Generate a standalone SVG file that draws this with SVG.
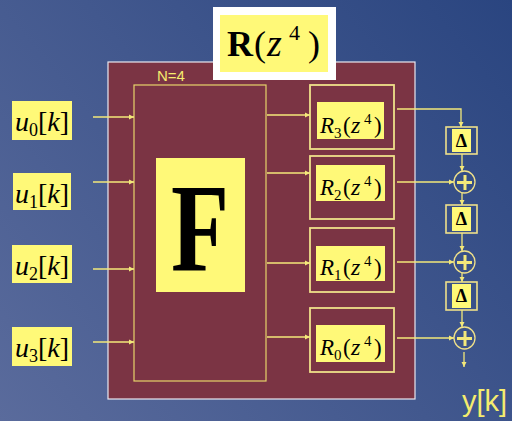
<svg xmlns="http://www.w3.org/2000/svg" width="512" height="421" viewBox="0 0 512 421">
<defs>
<linearGradient id="bg" x1="0" y1="421" x2="512" y2="0" gradientUnits="userSpaceOnUse">
<stop offset="0" stop-color="#5a6b9c"/>
<stop offset="1" stop-color="#2a4580"/>
</linearGradient>
<marker id="ah" markerWidth="6" markerHeight="6" refX="5" refY="3" orient="auto" markerUnits="userSpaceOnUse">
<path d="M0,0.5 L5,3 L0,5.5 Z" fill="#f3e87a"/>
</marker>
<style>
.ybox{fill:#fff978}
.ln{stroke:#f3e87a;stroke-width:1.3;fill:none}
.arr{stroke:#f3e87a;stroke-width:1.3;fill:none;marker-end:url(#ah)}
.rbox{fill:none;stroke:#efe08a;stroke-width:1.8}
.dbox{fill:none;stroke:#efe08a;stroke-width:1.6}
.math{font-family:"Liberation Serif","Times New Roman",serif;fill:#000}
.it{font-style:italic}
.sans{font-family:"Liberation Sans",Arial,sans-serif;fill:#f5ec6e}
</style>
</defs>
<rect width="512" height="421" fill="url(#bg)"/>

<g id="outer">
<rect x="108" y="62" width="307" height="337" fill="#7b3444" stroke="#e8e8f0" stroke-width="1.2"/>
</g>

<g id="title">
<rect x="213" y="7" width="123" height="73" fill="#ffffff"/>
<rect x="220" y="15" width="108" height="57" class="ybox"/>
<text class="math" y="56" font-size="36"><tspan x="227" font-weight="bold">R</tspan><tspan x="254">(</tspan><tspan x="267" class="it" font-size="38">z</tspan><tspan x="289" y="40" font-size="22">4</tspan><tspan x="308" y="56">)</tspan></text>
</g>

<g id="n4"><text class="sans" x="157" y="81" font-size="15">N=4</text></g>

<g id="F">
<rect x="134" y="85" width="132" height="296" fill="none" stroke="#e6d46a" stroke-width="1.2"/>
<rect x="156" y="158" width="89" height="134" class="ybox"/>
<text class="math" font-size="125" font-weight="bold" text-anchor="middle" transform="translate(200,270) scale(0.76,1)">F</text>
</g>

<g id="u0">
<rect x="12" y="101" width="60" height="39" class="ybox"/>
<text class="math" y="131" font-size="28"><tspan x="15" class="it">u</tspan><tspan font-size="18" dy="5">0</tspan><tspan dy="-5">[</tspan><tspan class="it">k</tspan>]</text>
</g>
<g id="u1">
<rect x="13" y="173" width="58" height="37" class="ybox"/>
<text class="math" y="203" font-size="28"><tspan x="15" class="it">u</tspan><tspan font-size="18" dy="5">1</tspan><tspan dy="-5">[</tspan><tspan class="it">k</tspan>]</text>
</g>
<g id="u2">
<rect x="12" y="245" width="60" height="38" class="ybox"/>
<text class="math" y="275" font-size="28"><tspan x="15" class="it">u</tspan><tspan font-size="18" dy="5">2</tspan><tspan dy="-5">[</tspan><tspan class="it">k</tspan>]</text>
</g>
<g id="u3">
<rect x="12" y="327" width="60" height="39" class="ybox"/>
<text class="math" y="357" font-size="28"><tspan x="15" class="it">u</tspan><tspan font-size="18" dy="5">3</tspan><tspan dy="-5">[</tspan><tspan class="it">k</tspan>]</text>
</g>

<g id="R3">
<rect x="310" y="85" width="84" height="64" class="rbox"/>
<rect x="317" y="102" width="67" height="37" class="ybox"/>
<text class="math" y="133" font-size="23"><tspan x="320" class="it">R</tspan><tspan x="334" dy="5" font-size="15">3</tspan><tspan x="343" dy="-5">(</tspan><tspan x="351" class="it" font-size="24">z</tspan><tspan x="364" dy="-9" font-size="15">4</tspan><tspan x="374" dy="9">)</tspan></text>
</g>
<g id="R2">
<rect x="310" y="156" width="84" height="63" class="rbox"/>
<rect x="316" y="165" width="69" height="36" class="ybox"/>
<text class="math" y="195" font-size="23"><tspan x="320" class="it">R</tspan><tspan x="334" dy="5" font-size="15">2</tspan><tspan x="343" dy="-5">(</tspan><tspan x="351" class="it" font-size="24">z</tspan><tspan x="364" dy="-9" font-size="15">4</tspan><tspan x="374" dy="9">)</tspan></text>
</g>
<g id="R1">
<rect x="310" y="228" width="84" height="64" class="rbox"/>
<rect x="316" y="246" width="69" height="35" class="ybox"/>
<text class="math" y="275" font-size="23"><tspan x="320" class="it">R</tspan><tspan x="334" dy="5" font-size="15">1</tspan><tspan x="343" dy="-5">(</tspan><tspan x="351" class="it" font-size="24">z</tspan><tspan x="364" dy="-9" font-size="15">4</tspan><tspan x="374" dy="9">)</tspan></text>
</g>
<g id="R0">
<rect x="310" y="308" width="84" height="64" class="rbox"/>
<rect x="316" y="325" width="69" height="37" class="ybox"/>
<text class="math" y="355" font-size="23"><tspan x="320" class="it">R</tspan><tspan x="334" dy="5" font-size="15">0</tspan><tspan x="343" dy="-5">(</tspan><tspan x="351" class="it" font-size="24">z</tspan><tspan x="364" dy="-9" font-size="15">4</tspan><tspan x="374" dy="9">)</tspan></text>
</g>

<g id="D1">
<rect x="446" y="127" width="31" height="27" class="dbox"/>
<rect x="452" y="129" width="19" height="23" class="ybox"/>
<text class="math" x="461.5" y="147" font-size="18" font-weight="bold" text-anchor="middle">Δ</text>
</g>
<g id="D2">
<rect x="446" y="205" width="31" height="28" class="dbox"/>
<rect x="452" y="207" width="19" height="24" class="ybox"/>
<text class="math" x="461.5" y="225" font-size="18" font-weight="bold" text-anchor="middle">Δ</text>
</g>
<g id="D3">
<rect x="446" y="282" width="31" height="28" class="dbox"/>
<rect x="452" y="284" width="19" height="24" class="ybox"/>
<text class="math" x="461.5" y="302" font-size="18" font-weight="bold" text-anchor="middle">Δ</text>
</g>

<g id="S1">
<ellipse cx="464.5" cy="182" rx="10.5" ry="11" fill="none" stroke="#efe08a" stroke-width="1.3"/>
<path d="M457,182.5 H472 M465,175 V190" stroke="#f3e87a" stroke-width="3" fill="none"/>
</g>
<g id="S2">
<ellipse cx="464.5" cy="262" rx="10.5" ry="11" fill="none" stroke="#efe08a" stroke-width="1.3"/>
<path d="M457,262.5 H472 M465,255 V270" stroke="#f3e87a" stroke-width="3" fill="none"/>
</g>
<g id="S3">
<ellipse cx="464.5" cy="338" rx="10.5" ry="11" fill="none" stroke="#efe08a" stroke-width="1.3"/>
<path d="M457,338.5 H472 M465,331 V346" stroke="#f3e87a" stroke-width="3" fill="none"/>
</g>

<g id="yk"><text class="sans" x="462" y="411" font-size="29">y[k]</text></g>

<g id="connectors">
<line class="arr" x1="93" y1="117" x2="134" y2="117"/>
<line class="arr" x1="93" y1="182" x2="134" y2="182"/>
<line class="arr" x1="93" y1="269" x2="134" y2="269"/>
<line class="arr" x1="93" y1="342" x2="134" y2="342"/>
<line class="arr" x1="267" y1="115" x2="310" y2="115"/>
<line class="arr" x1="267" y1="173" x2="310" y2="173"/>
<line class="arr" x1="267" y1="263" x2="310" y2="263"/>
<line class="arr" x1="267" y1="337" x2="310" y2="337"/>
<path class="arr" d="M397,109 H461 V127"/>
<line class="arr" x1="397" y1="182" x2="454" y2="182"/>
<line class="arr" x1="397" y1="262" x2="454" y2="262"/>
<line class="arr" x1="397" y1="338" x2="454" y2="338"/>
<line class="arr" x1="462" y1="154" x2="462" y2="171"/>
<line class="arr" x1="462" y1="193" x2="462" y2="205"/>
<line class="arr" x1="462" y1="233" x2="462" y2="251"/>
<line class="arr" x1="462" y1="273" x2="462" y2="282"/>
<line class="arr" x1="462" y1="310" x2="462" y2="327"/>
<line class="arr" x1="464" y1="352" x2="464" y2="367"/>
</g>
</svg>
